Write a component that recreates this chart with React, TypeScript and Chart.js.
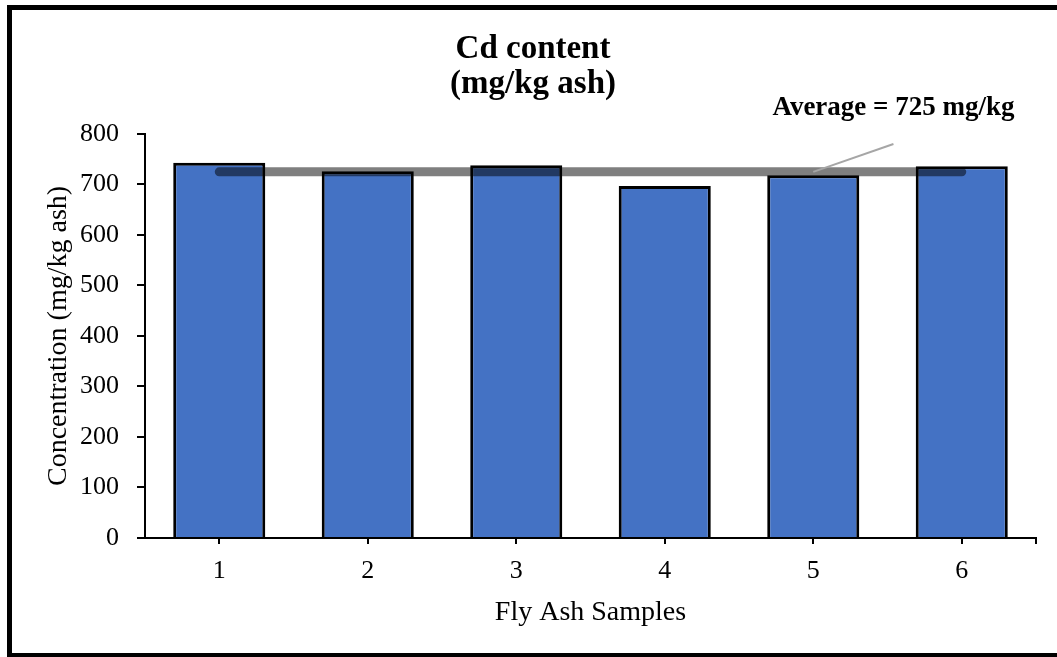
import React, { useEffect, useRef } from "react";
import { Chart, registerables } from "chart.js";

Chart.register(...registerables);

// Fly ash samples and their measured Cd content (mg/kg ash)
const sampleLabels = ["1", "2", "3", "4", "5", "6"];
const cdContent = [743, 726, 738, 697, 718, 736];
// Mean value drawn as a horizontal band across the samples
const averageValues = [725, 725, 725, 725, 725, 725];
const averageLabel = "Average = 725 mg/kg";

const yMin = 0;
const yMax = 800;
const yStep = 100;

const SERIF = "'Liberation Serif', 'Times New Roman', serif";

// Callout for the average: text plus a thin leader line to the band
const averageCallout = {
  id: "averageCallout",
  afterDraw(chart: any) {
    const { ctx, scales, chartArea } = chart;
    const x = scales.x;
    const y = scales.y;
    ctx.save();
    // leader line
    ctx.strokeStyle = "#a6a6a6";
    ctx.lineWidth = 2;
    ctx.beginPath();
    ctx.moveTo(x.getPixelForValue(4), y.getPixelForValue(725));
    ctx.lineTo(x.getPixelForValue(4.54), y.getPixelForValue(780));
    ctx.stroke();
    // label
    ctx.fillStyle = "#000";
    ctx.font = `bold 27px ${SERIF}`;
    ctx.textAlign = "center";
    ctx.textBaseline = "alphabetic";
    ctx.fillText(averageLabel, x.getPixelForValue(4.54), y.getPixelForValue(838));
    // closing tick at the right end of the category axis
    ctx.strokeStyle = "#000";
    ctx.lineWidth = 2;
    ctx.beginPath();
    ctx.moveTo(chartArea.right, chartArea.bottom);
    ctx.lineTo(chartArea.right, chartArea.bottom + 6);
    ctx.stroke();
    ctx.restore();
  },
};

export default function App() {
  const canvasRef = useRef<HTMLCanvasElement | null>(null);

  useEffect(() => {
    if (!canvasRef.current) return;
    const chart = new Chart(canvasRef.current, {
      type: "bar",
      data: {
        labels: sampleLabels,
        datasets: [
          {
            type: "line",
            label: "Average",
            data: averageValues,
            borderColor: "rgba(0,0,0,0.5)",
            borderWidth: 9,
            borderCapStyle: "round",
            pointRadius: 0,
            fill: false,
            order: 0,
          } as any,
          {
            type: "bar",
            label: "Cd content",
            data: cdContent,
            backgroundColor: "#4472C4",
            borderColor: "#000",
            borderWidth: 3,
            barPercentage: 0.62,
            categoryPercentage: 1,
            order: 1,
          },
        ],
      },
      options: {
        responsive: false,
        animation: false,
        events: [],
        layout: { padding: { left: 30, right: 21, top: 10, bottom: 10 } },
        plugins: {
          legend: { display: false },
          tooltip: { enabled: false },
          title: {
            display: true,
            text: ["Cd content", "(mg/kg ash)"],
            color: "#000",
            font: { family: SERIF, size: 33, weight: "bold", lineHeight: 1.09 },
            padding: { top: 21, bottom: 31 },
          },
        },
        scales: {
          x: {
            afterFit(scale: any) {
              scale.height = 109;
            },
            grid: {
              offset: false,
              drawOnChartArea: false,
              drawTicks: true,
              tickLength: 6,
              color: "#000",
              lineWidth: 2,
            },
            border: { display: true, color: "#000", width: 2 },
            ticks: {
              color: "#000",
              padding: 12,
              font: { family: SERIF, size: 26 },
            },
            title: {
              display: true,
              text: "Fly Ash Samples",
              color: "#000",
              font: { family: SERIF, size: 28 },
              padding: { top: 0, bottom: 18 },
            },
          },
          y: {
            min: yMin,
            max: yMax,
            afterFit(scale: any) {
              scale.width = 115;
            },
            ticks: {
              stepSize: yStep,
              color: "#000",
              padding: 18,
              font: { family: SERIF, size: 26 },
            },
            grid: {
              drawOnChartArea: false,
              drawTicks: true,
              tickLength: 8,
              color: "#000",
              lineWidth: 2,
            },
            border: { display: true, color: "#000", width: 2 },
            title: {
              display: true,
              text: "Concentration (mg/kg ash)",
              color: "#000",
              font: { family: SERIF, size: 28 },
              padding: { top: 12, bottom: 0 },
            },
          },
        },
      },
      plugins: [averageCallout],
    });
    return () => chart.destroy();
  }, []);

  return (
    <div
      style={{
        position: "fixed",
        left: 0,
        top: 0,
        width: 1057,
        height: 657,
        background: "#fff",
        overflow: "hidden",
      }}
    >
      <canvas
        ref={canvasRef}
        width={1057}
        height={657}
        style={{ position: "absolute", left: 0, top: 0, width: 1057, height: 657 }}
      />
      <div
        style={{
          position: "absolute",
          left: 7,
          top: 5,
          width: 1100,
          height: 652,
          boxSizing: "border-box",
          borderTop: "5px solid #000",
          borderLeft: "5px solid #000",
          borderBottom: "4px solid #000",
          pointerEvents: "none",
        }}
      />
    </div>
  );
}
